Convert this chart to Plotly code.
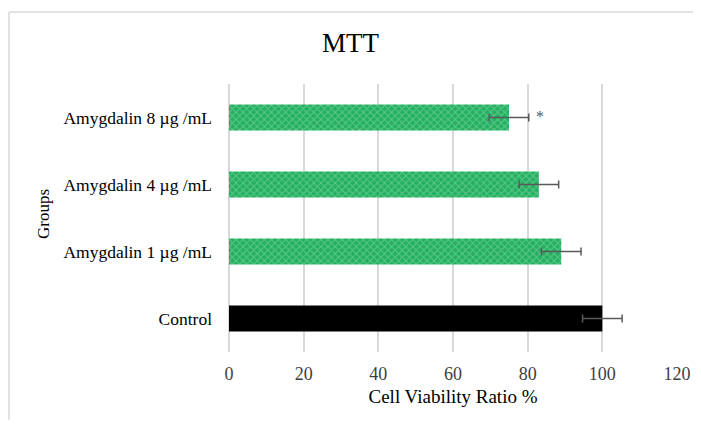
import plotly.graph_objects as go

categories = ["Control", "Amygdalin 1 µg /mL", "Amygdalin 4 µg /mL", "Amygdalin 8 µg /mL"]
viability = [100, 89, 83, 75]
errors = [5.3, 5.3, 5.3, 5.3]
significance = ["", "", "", "*"]

# page body has an 8px default margin, so the figure is sized to fit inside it
W, H = 685, 412
L, R, T, B = 221, 16, 76, 68
pw, ph = W - L - R, H - T - B

fig = go.Figure()

# Control bar (black)
fig.add_trace(go.Bar(
    y=[categories[0]], x=[viability[0]], orientation="h", width=0.39,
    marker=dict(color="#000000", line=dict(width=0)),
    error_x=dict(type="data", array=[errors[0]], color="#595959", thickness=1.5, width=4),
    showlegend=False, hoverinfo="x+y",
))
# Amygdalin bars (green pattern)
fig.add_trace(go.Bar(
    y=categories[1:], x=viability[1:], orientation="h", width=0.39,
    marker=dict(color="#2bb566", line=dict(width=0),
                pattern=dict(shape="x", size=5, solidity=0.35, fgcolor="#9fe0bb", bgcolor="#23b060",
                             fillmode="overlay")),
    error_x=dict(type="data", array=errors[1:], color="#595959", thickness=1.5, width=4),
    showlegend=False, hoverinfo="x+y",
))

# significance marks
for c, v, e, s in zip(categories, viability, errors, significance):
    if s:
        fig.add_annotation(x=v + e, y=c, text=s, showarrow=False, xanchor="left", xshift=5, yshift=1,
                           font=dict(family="Liberation Serif", size=16, color="#595959"))

# "Groups" y-axis title as annotation
fig.add_annotation(x=(35 - L) / pw, y=(T + ph - 206) / ph, xref="paper", yref="paper", text="Groups",
                   textangle=-90, showarrow=False, xanchor="center", yanchor="middle",
                   font=dict(family="Liberation Serif", size=17, color="#000000"))

# outer light frame (top and left edges visible)
fx0, fy1 = (1 - L) / pw, 1 + (T - 4) / ph
fig.add_shape(type="line", xref="paper", yref="paper", x0=fx0, x1=(W - L) / pw, y0=fy1, y1=fy1,
              line=dict(color="#d9d9d9", width=1.5), layer="below")
fig.add_shape(type="line", xref="paper", yref="paper", x0=fx0, x1=fx0, y0=fy1, y1=(T + ph - H) / ph,
              line=dict(color="#d9d9d9", width=1.5), layer="below")

fig.update_layout(
    width=W, height=H,
    margin=dict(l=L, r=R, t=T, b=B, autoexpand=False),
    paper_bgcolor="white", plot_bgcolor="white",
    title=dict(text="MTT", x=0.5, xref="container", xanchor="center", y=1 - 34.5 / H, yanchor="middle",
               font=dict(family="Liberation Serif", size=27, color="#000000")),
    font=dict(family="Liberation Serif", color="#000000"),
    xaxis=dict(range=[0, 120], dtick=20, tick0=0, showgrid=True, gridcolor="#d9d9d9", gridwidth=1.5,
               zeroline=True, zerolinecolor="#d9d9d9", zerolinewidth=1.5, showline=False,
               automargin=False,
               tickfont=dict(family="Liberation Serif", size=18, color="#404040"),
               ticklabelstandoff=9,
               title=dict(text="Cell Viability Ratio %", standoff=6,
                          font=dict(family="Liberation Serif", size=19, color="#000000"))),
    yaxis=dict(categoryorder="array", categoryarray=categories, range=[-0.5, 3.5],
               showgrid=False, zeroline=False, showline=False, automargin=False,
               tickfont=dict(family="Liberation Serif", size=17.5, color="#000000"),
               ticklabelstandoff=16),
    bargap=0.6,
)

fig.write_html("out.html")
